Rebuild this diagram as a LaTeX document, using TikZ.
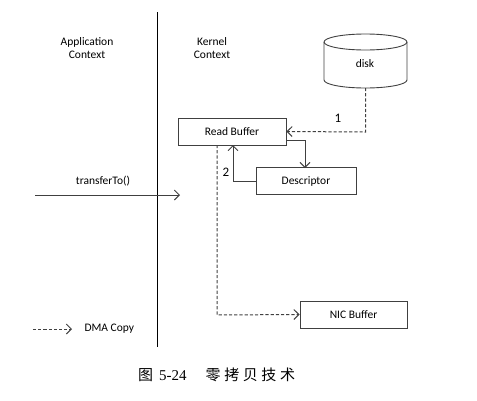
\documentclass[tikz,border=0pt]{standalone}
\usepackage{fontspec}
\setmainfont{Carlito}
\newfontfamily\cjk{Noto Sans CJK SC}
\newfontfamily\capfont{Liberation Serif}
\usetikzlibrary{arrows.meta,shapes.geometric}
\definecolor{ln}{HTML}{404040}
\newcommand{\cs}{\hspace{3.6pt}}
\begin{document}
\begin{tikzpicture}[x=1pt,y=-1pt,
  every node/.style={font=\fontsize{11.5}{13.5}\selectfont, text=black},
  box/.style={draw=ln, line width=0.9pt, minimum height=27pt, inner sep=0pt},
  conn/.style={draw=ln, line width=0.9pt, -{Straight Barb[length=5pt,width=10pt]}},
  dma/.style={conn, line width=1pt, dash pattern=on 3.2pt off 2pt}]
\useasboundingbox (0,0) rectangle (477,400);
\draw[line width=0.9pt, black] (157,12) coordinate (vt) -- (157,347) coordinate (vb);
\node[align=center] (app) at (87,48) {Application\\Context};
\node[align=center] (ker) at (212,48) {Kernel\\Context};
% disk cylinder
\draw[ln, line width=0.9pt] (324,42) arc[x radius=41.5, y radius=8, start angle=180, end angle=360]
  (407,42) arc[x radius=41.5, y radius=8, start angle=0, end angle=180];
\draw[ln, line width=0.9pt] (324,42) -- (324,80) arc[x radius=41.5, y radius=8, start angle=180, end angle=0] -- (407,42);
\coordinate (diskb) at (365.5,88);
\node (disk) at (365,64) {disk};
\node[box, minimum width=108pt] (rb) at (232,131.5) {Read Buffer};
\node[box, minimum width=100pt] (desc) at (306,181) {Descriptor};
\node[box, minimum width=107pt] (nic) at (353.5,314.5) {NIC Buffer};
% 1
\draw[dma] (diskb) -- (365.5,132) -- (rb.east);
\node (l1) at (338,118) {\fontsize{13}{15}\selectfont 1};
% rb -> desc
\draw[conn] (286,140) -- (305,140) -- (305,168);
% 2
\draw[conn] (desc.west) -- (233,181) -- (233,145);
\node (l2) at (226,172) {\fontsize{13}{15}\selectfont 2};
% to NIC
\draw[dma] (217,145) -- (217,315) -- (nic.west);
% transferTo
\coordinate (ts) at (35,195);
\coordinate (te) at (180,195);
\draw[conn] (ts) -- (te);
\node (tt) at (103,181) {transferTo()};
% legend
\coordinate (ls) at (33,329);
\coordinate (le) at (72,329);
\draw[dma] (ls) -- (le);
\node[anchor=west] (lt) at (81,329) {DMA Copy};
% caption
\node[anchor=west, inner sep=0pt] (cap) at (138,375) {\fontsize{15}{17}\selectfont{\cjk 图}\hspace{6pt}{\capfont 5-24}\hspace{19pt}{\cjk 零\cs 拷\cs 贝\cs 技\cs 术}};
\end{tikzpicture}
\end{document}
